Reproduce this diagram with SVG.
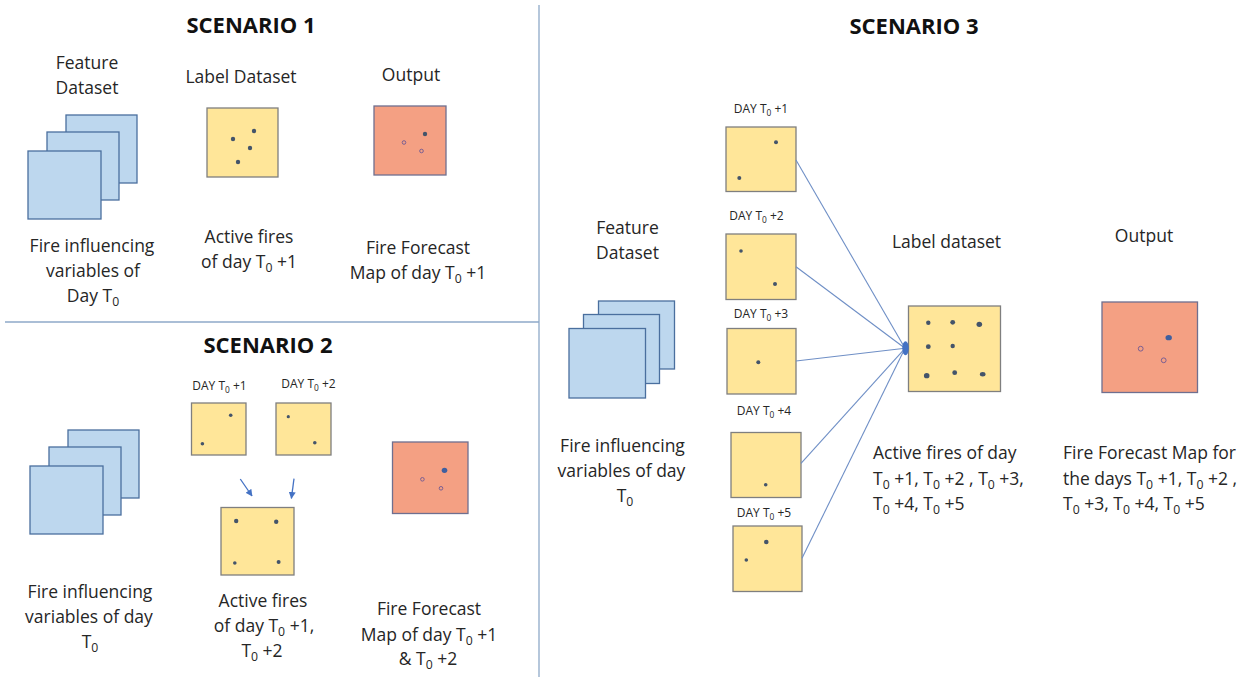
<svg xmlns="http://www.w3.org/2000/svg" width="1252" height="677" viewBox="0 0 1252 677">
  <defs>
    <style>
      text { font-family: "Open Sans", "Liberation Sans", sans-serif; fill: #262626; }
      .title { font-size: 22px; font-weight: bold; text-anchor: middle; fill: #111; }
      .lbl { font-size: 17.5px; text-anchor: middle; }
      .lft { font-size: 17.5px; text-anchor: start; }
      .day { font-size: 12px; text-anchor: middle; }
      .s { font-size: 70%; }
      .feat { fill: #bdd7ee; stroke: #4a6f9e; stroke-width: 1.3; }
      .lab { fill: #ffe699; stroke: #7f7f7f; stroke-width: 1.3; }
      .out { fill: #f4a083; stroke: #6f6f8f; stroke-width: 1.3; }
      .dot { fill: #44546a; }
      .ring { fill: none; stroke: #7b5f92; stroke-width: 1; }
      .hot { fill: #3f5f9f; }
      .sep { stroke: #8ea9c8; stroke-width: 1.3; fill: none; }
      .wire { stroke: #6f8fc6; stroke-width: 1.1; fill: none; }
      .arr { stroke: #4472c4; stroke-width: 1.3; fill: none; }
    </style>
    <marker id="head" viewBox="0 0 10 10" refX="9" refY="5" markerWidth="7" markerHeight="7" orient="auto" markerUnits="userSpaceOnUse">
      <path d="M0,0 L10,5 L0,10 z" fill="#4472c4"/>
    </marker>
    <g id="stack">
      <rect class="feat" x="38" y="0" width="71" height="68"/>
      <rect class="feat" x="19" y="17" width="72" height="68"/>
      <rect class="feat" x="0" y="36" width="73" height="68"/>
    </g>
  </defs>

  <rect width="1252" height="677" fill="#ffffff"/>

  <!-- panel separators -->
  <g id="separators">
    <line class="sep" x1="539" y1="5" x2="539" y2="677"/>
    <line class="sep" x1="5" y1="322" x2="539" y2="322"/>
  </g>

  <!-- ===== Scenario 1 ===== -->
  <g id="s1-title"><text class="title" x="251" y="33">SCENARIO 1</text></g>

  <g id="s1-feature">
    <text class="lbl" x="87" y="69">Feature</text>
    <text class="lbl" x="87" y="94">Dataset</text>
    <use href="#stack" x="28" y="115"/>
    <text class="lbl" x="92" y="252">Fire influencing</text>
    <text class="lbl" x="93" y="277">variables of</text>
    <text class="lbl" x="93" y="302">Day T<tspan class="s" dy="4">0</tspan></text>
  </g>

  <g id="s1-label">
    <text class="lbl" x="241" y="83">Label Dataset</text>
    <rect class="lab" x="207" y="108" width="71" height="69"/>
    <circle class="dot" cx="233" cy="139" r="2.2"/>
    <circle class="dot" cx="254" cy="131" r="2.2"/>
    <circle class="dot" cx="250" cy="148" r="2.2"/>
    <circle class="dot" cx="238" cy="162" r="2.2"/>
    <text class="lbl" x="249" y="243">Active fires</text>
    <text class="lbl" x="249" y="268">of day T<tspan class="s" dy="4">0</tspan><tspan dy="-4"> +1</tspan></text>
  </g>

  <g id="s1-output">
    <text class="lbl" x="411" y="81">Output</text>
    <rect class="out" x="374" y="106" width="72" height="69"/>
    <circle class="dot" cx="425" cy="134" r="2.2"/>
    <circle class="ring" cx="404" cy="142.5" r="1.8"/>
    <circle class="ring" cx="421.5" cy="151" r="1.8"/>
    <text class="lbl" x="418" y="254">Fire Forecast</text>
    <text class="lbl" x="418" y="279">Map of day T<tspan class="s" dy="4">0</tspan><tspan dy="-4"> +1</tspan></text>
  </g>

  <!-- ===== Scenario 2 ===== -->
  <g id="s2-title"><text class="title" x="268" y="353">SCENARIO 2</text></g>

  <g id="s2-feature">
    <use href="#stack" x="30" y="430"/>
    <text class="lbl" x="90" y="598">Fire influencing</text>
    <text class="lbl" x="89" y="623">variables of day</text>
    <text class="lbl" x="90" y="648">T<tspan class="s" dy="4">0</tspan></text>
  </g>

  <g id="s2-day1">
    <text class="day" x="219.5" y="390">DAY T<tspan class="s" dy="3">0</tspan><tspan dy="-3"> +1</tspan></text>
    <rect class="lab" x="191.5" y="403" width="54.5" height="52"/>
    <circle class="dot" cx="230.7" cy="415.3" r="1.8"/>
    <circle class="dot" cx="202.4" cy="443.7" r="1.8"/>
  </g>

  <g id="s2-day2">
    <text class="day" x="308.5" y="388">DAY T<tspan class="s" dy="3">0</tspan><tspan dy="-3"> +2</tspan></text>
    <rect class="lab" x="276" y="403" width="55" height="52"/>
    <circle class="dot" cx="288.3" cy="416.7" r="1.6"/>
    <circle class="dot" cx="314.8" cy="442.7" r="1.8"/>
  </g>

  <g id="s2-label">
    <rect class="lab" x="221" y="507.5" width="73" height="67.5"/>
    <circle class="dot" cx="236.2" cy="521" r="2.2"/>
    <circle class="dot" cx="276.2" cy="521.7" r="2.2"/>
    <circle class="dot" cx="234.8" cy="563" r="1.8"/>
    <circle class="dot" cx="278.6" cy="562" r="2"/>
    <text class="lbl" x="263" y="607">Active fires</text>
    <text class="lbl" x="264" y="632">of day T<tspan class="s" dy="4">0</tspan><tspan dy="-4"> +1,</tspan></text>
    <text class="lbl" x="262" y="657">T<tspan class="s" dy="4">0</tspan><tspan dy="-4"> +2</tspan></text>
  </g>

  <g id="s2-output">
    <rect class="out" x="392.5" y="442" width="75.5" height="71.5"/>
    <ellipse class="hot" cx="444.5" cy="470.3" rx="2.8" ry="2.6"/>
    <circle class="ring" cx="422.4" cy="479.3" r="1.8"/>
    <circle class="ring" cx="441" cy="488.3" r="1.8"/>
    <text class="lbl" x="429" y="615">Fire Forecast</text>
    <text class="lbl" x="429" y="640.5">Map of day T<tspan class="s" dy="4">0</tspan><tspan dy="-4"> +1</tspan></text>
    <text class="lbl" x="428" y="665">&amp; T<tspan class="s" dy="4">0</tspan><tspan dy="-4"> +2</tspan></text>
  </g>

  <!-- ===== Scenario 3 ===== -->
  <g id="s3-title"><text class="title" x="914" y="34">SCENARIO 3</text></g>

  <g id="s3-feature">
    <text class="lbl" x="627.5" y="234">Feature</text>
    <text class="lbl" x="627.5" y="259">Dataset</text>
    <rect class="feat" x="598.5" y="301" width="76" height="68"/>
    <rect class="feat" x="583.5" y="314.5" width="76" height="69"/>
    <rect class="feat" x="569" y="328.5" width="76.5" height="69.5"/>
    <text class="lbl" x="622.5" y="451.5">Fire influencing</text>
    <text class="lbl" x="621.5" y="476.5">variables of day</text>
    <text class="lbl" x="625" y="501.5">T<tspan class="s" dy="4">0</tspan></text>
  </g>

  <g id="s3-day1">
    <text class="day" x="761" y="113">DAY T<tspan class="s" dy="3">0</tspan><tspan dy="-3"> +1</tspan></text>
    <rect class="lab" x="726" y="127" width="70" height="64.5"/>
    <circle class="dot" cx="776" cy="142.3" r="2"/>
    <circle class="dot" cx="739.3" cy="178" r="2"/>
  </g>

  <g id="s3-day2">
    <text class="day" x="756.5" y="220">DAY T<tspan class="s" dy="3">0</tspan><tspan dy="-3"> +2</tspan></text>
    <rect class="lab" x="726" y="234" width="70" height="65.5"/>
    <circle class="dot" cx="741" cy="251" r="1.8"/>
    <circle class="dot" cx="775" cy="284" r="2"/>
  </g>

  <g id="s3-day3">
    <text class="day" x="761" y="318">DAY T<tspan class="s" dy="3">0</tspan><tspan dy="-3"> +3</tspan></text>
    <rect class="lab" x="727" y="328.5" width="69" height="65.5"/>
    <circle class="dot" cx="758.3" cy="362.3" r="2"/>
  </g>

  <g id="s3-day4">
    <text class="day" x="764" y="415">DAY T<tspan class="s" dy="3">0</tspan><tspan dy="-3"> +4</tspan></text>
    <rect class="lab" x="731" y="432.5" width="70" height="65"/>
    <circle class="dot" cx="765.7" cy="484.7" r="1.8"/>
  </g>

  <g id="s3-day5">
    <text class="day" x="764" y="517">DAY T<tspan class="s" dy="3">0</tspan><tspan dy="-3"> +5</tspan></text>
    <rect class="lab" x="733" y="526" width="69" height="65.5"/>
    <circle class="dot" cx="766.3" cy="542" r="2.3"/>
    <circle class="dot" cx="746.3" cy="560" r="1.8"/>
  </g>

  <g id="s3-label">
    <text class="lbl" x="946.5" y="248">Label dataset</text>
    <rect class="lab" x="908.5" y="306" width="92" height="85.5"/>
    <circle class="dot" cx="928.3" cy="322.7" r="2.2"/>
    <circle class="dot" cx="952.7" cy="322.3" r="2.4"/>
    <ellipse class="dot" cx="979.3" cy="324.3" rx="2.8" ry="2.6"/>
    <circle class="dot" cx="928.3" cy="346.7" r="2.4"/>
    <circle class="dot" cx="952.7" cy="346" r="2.2"/>
    <ellipse class="dot" cx="926.7" cy="375.7" rx="2.8" ry="2.6"/>
    <circle class="dot" cx="954.7" cy="372.7" r="2.4"/>
    <ellipse class="dot" cx="982.7" cy="374.3" rx="2.8" ry="2.2"/>
    <text class="lft" x="873" y="459">Active fires of day</text>
    <text class="lft" x="873" y="485">T<tspan class="s" dy="4">0</tspan><tspan dy="-4"> +1, T</tspan><tspan class="s" dy="4">0</tspan><tspan dy="-4"> +2 , T</tspan><tspan class="s" dy="4">0</tspan><tspan dy="-4"> +3,</tspan></text>
    <text class="lft" x="873" y="510">T<tspan class="s" dy="4">0</tspan><tspan dy="-4"> +4, T</tspan><tspan class="s" dy="4">0</tspan><tspan dy="-4"> +5</tspan></text>
  </g>

  <g id="s3-output">
    <text class="lbl" x="1144" y="241.5">Output</text>
    <rect class="out" x="1102" y="302" width="95.5" height="90.5"/>
    <ellipse class="hot" cx="1168.7" cy="337.7" rx="3.2" ry="2.6"/>
    <circle class="ring" cx="1140.7" cy="348.7" r="2.4"/>
    <circle class="ring" cx="1163.7" cy="360.3" r="2.4"/>
    <text class="lft" x="1063" y="459">Fire Forecast Map for</text>
    <text class="lft" x="1063" y="485">the days T<tspan class="s" dy="4">0</tspan><tspan dy="-4"> +1, T</tspan><tspan class="s" dy="4">0</tspan><tspan dy="-4"> +2 ,</tspan></text>
    <text class="lft" x="1063" y="510">T<tspan class="s" dy="4">0</tspan><tspan dy="-4"> +3, T</tspan><tspan class="s" dy="4">0</tspan><tspan dy="-4"> +4, T</tspan><tspan class="s" dy="4">0</tspan><tspan dy="-4"> +5</tspan></text>
  </g>

  <!-- connectors -->
  <g id="connectors">
    <line class="arr" x1="240.3" y1="479" x2="252" y2="496" marker-end="url(#head)"/>
    <line class="arr" x1="294" y1="478.7" x2="291.4" y2="498.3" marker-end="url(#head)"/>
    <line class="wire" x1="796" y1="160" x2="905" y2="348.3"/>
    <line class="wire" x1="796" y1="266.7" x2="905" y2="348.3"/>
    <line class="wire" x1="796" y1="361" x2="905" y2="348.3"/>
    <line class="wire" x1="801" y1="463.3" x2="905" y2="348.3"/>
    <line class="wire" x1="802" y1="558.3" x2="905" y2="348.3"/>
    <ellipse cx="905.5" cy="348.3" rx="3.2" ry="7" fill="#4472c4"/>
  </g>
</svg>
